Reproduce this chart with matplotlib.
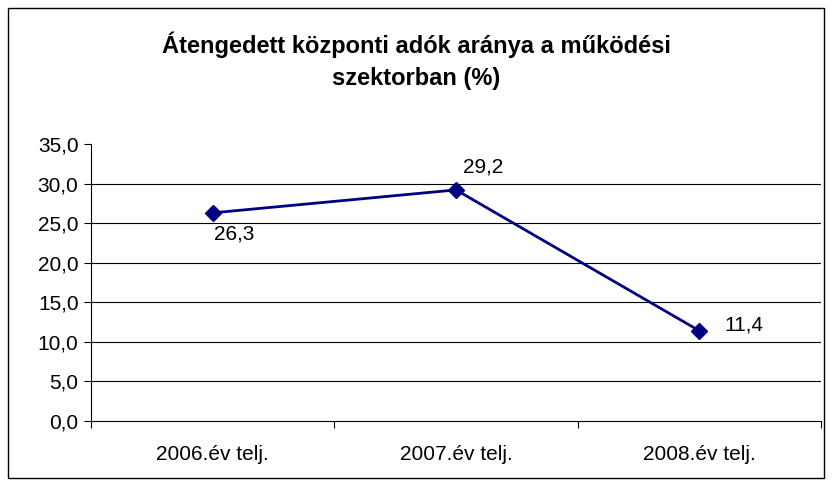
import matplotlib

matplotlib.use("Agg")
import matplotlib.pyplot as plt
import numpy as np
from matplotlib.patches import Rectangle

plt.rcParams["font.family"] = ["Liberation Sans", "DejaVu Sans"]

# ---- data ----
categories = ["2006.év telj.", "2007.év telj.", "2008.év telj."]
values = [26.3, 29.2, 11.4]
value_labels = ["26,3", "29,2", "11,4"]
title = "Átengedett központi adók aránya a működési\nszektorban (%)"

fig = plt.figure(figsize=(8.32, 4.86), dpi=100)
# outer chart frame
fig.patches.append(
    Rectangle((8 / 832, 1 - 478 / 486), 816 / 832, 470 / 486,
              transform=fig.transFigure, fill=False, edgecolor="black", lw=1.0)
)

ax = fig.add_axes([91 / 832, 1 - 421 / 486, 730 / 832, 277 / 486])
x = np.arange(len(categories))
ax.plot(x, values, color="#000080", lw=2.0, marker="D", markersize=8.5,
        markerfacecolor="#000080", markeredgecolor="#000080", zorder=3)

offsets = [(1, -15), (5, 16.5), (18, 4)]
for xi, v, lab, (dx, dy) in zip(x, values, value_labels, offsets):
    ax.annotate(lab, (xi, v), xytext=(dx, dy), textcoords="offset points",
                ha="left", va="center", fontsize=15)

ax.set_xlim(-0.5, len(categories) - 0.5)
ax.set_ylim(0, 35)
yt = np.arange(0, 36, 5)
ax.set_yticks(yt)
ax.set_yticklabels([f"{v:.1f}".replace(".", ",") for v in yt], fontsize=15)
for v in yt[1:-1]:
    ax.axhline(v, color="black", lw=0.8, zorder=1)

# category boundary ticks
ax.set_xticks(np.arange(-0.5, len(categories), 1.0))
ax.set_xticklabels([])
ax.set_xticks(x, minor=True)
ax.set_xticklabels(categories, minor=True, fontsize=15)
ax.tick_params(axis="x", which="minor", length=0, pad=17)
ax.tick_params(axis="x", which="major", length=5, direction="out", width=0.8)
ax.tick_params(axis="y", length=5, direction="out", width=0.8, pad=4)

for s in ["top", "right"]:
    ax.spines[s].set_visible(False)
for s in ["left", "bottom"]:
    ax.spines[s].set_linewidth(0.8)

fig.text(0.5, 1 - 61 / 486, title, ha="center", va="center",
         fontsize=17, fontweight="bold", linespacing=1.5)

plt.savefig("out.png", dpi=100)
